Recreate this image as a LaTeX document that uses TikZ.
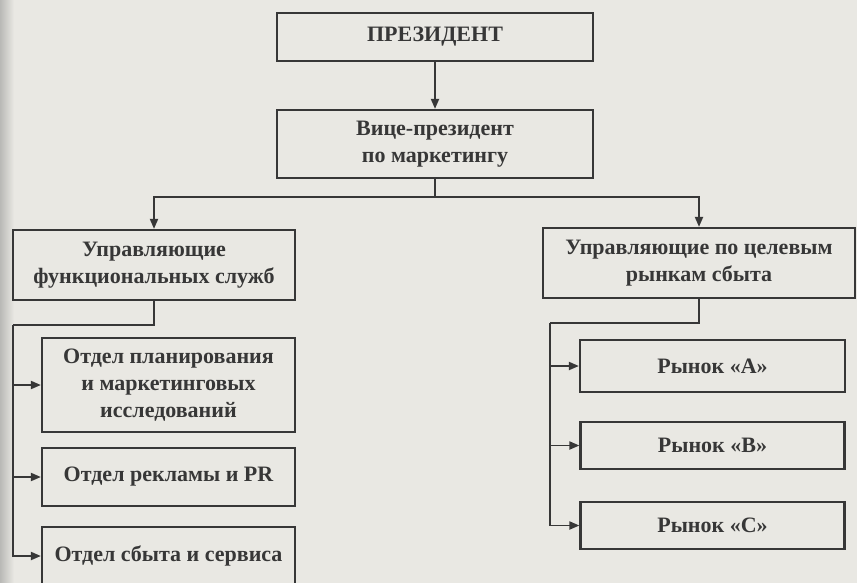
\documentclass[tikz,border=0pt]{standalone}
\usepackage{fontspec}
\setmainfont{Liberation Serif}
\usetikzlibrary{arrows.meta}
\definecolor{paper}{RGB}{233,232,227}
\definecolor{ink}{RGB}{55,55,55}
\definecolor{shadow}{RGB}{185,185,182}
\begin{document}
\begin{tikzpicture}[x=1pt,y=-1pt,
  box/.style={draw=ink, line width=2.2pt, rectangle, inner sep=2pt, align=center,
    text=ink, font=\fontsize{22}{27}\selectfont\bfseries},
  link/.style={draw=ink, line width=1.9pt},
  arr/.style={link, -{Triangle[length=10pt,width=8pt]}}]
  % page and scanner shadow on the left edge
  \fill[paper] (0,0) rectangle (857,583);
  \shade[left color=shadow, right color=paper] (0,0) rectangle (14,583);
  \useasboundingbox (0,0) rectangle (857,583);

  % top of the hierarchy
  \node[box, minimum width=316pt, minimum height=48pt] (pres) at (435,37) {ПРЕЗИДЕНТ};
  \node[box, minimum width=316pt, minimum height=68pt] (vp) at (435,144)
    {Вице-президент\\по маркетингу};

  % two branches of managers
  \node[box, minimum width=282pt, minimum height=70pt] (func) at (154,265)
    {Управляющие\\функциональных служб};
  \node[box, minimum width=312pt, minimum height=70pt] (mkt) at (699,263)
    {Управляющие по целевым\\рынкам сбыта};

  % functional departments
  \node[box, minimum width=253pt, minimum height=94pt] (d1) at (168.5,385)
    {Отдел планирования\\и маркетинговых\\исследований};
  \node[box, minimum width=253pt, minimum height=58pt] (d2) at (168.5,477)
    {Отдел рекламы и PR};
  \node[box, minimum width=253pt, minimum height=58pt] (d3) at (168.5,556)
    {Отдел сбыта и сервиса};

  % target markets
  \node[box, minimum width=265pt, minimum height=52pt] (ma) at (712.5,366) {Рынок «А»};
  \node[box, minimum width=264pt, minimum height=47pt] (mb) at (712.5,445.5) {Рынок «В»};
  \node[box, minimum width=264pt, minimum height=47pt] (mc) at (712.5,525.5) {Рынок «С»};

  % junction points of the connector lines
  \coordinate (bus) at (435,197);
  \coordinate (lbus) at (13,325);
  \coordinate (rbus) at (550,323);

  \draw[arr] (pres) -- (vp);
  \draw[link] (vp.south) -- (bus);
  \draw[arr] (bus) -| (func.north);
  \draw[arr] (bus) -| (mkt.north);

  \draw[link] (func.south) |- (lbus);
  \draw[arr] (lbus) |- (d1.west);
  \draw[arr] (lbus) |- (d2.west);
  \draw[arr] (lbus) |- (d3.west);

  \draw[link] (mkt.south) |- (rbus);
  \draw[arr] (rbus) |- (ma.west);
  \draw[arr] (rbus) |- (mb.west);
  \draw[arr] (rbus) |- (mc.west);
\end{tikzpicture}
\end{document}
